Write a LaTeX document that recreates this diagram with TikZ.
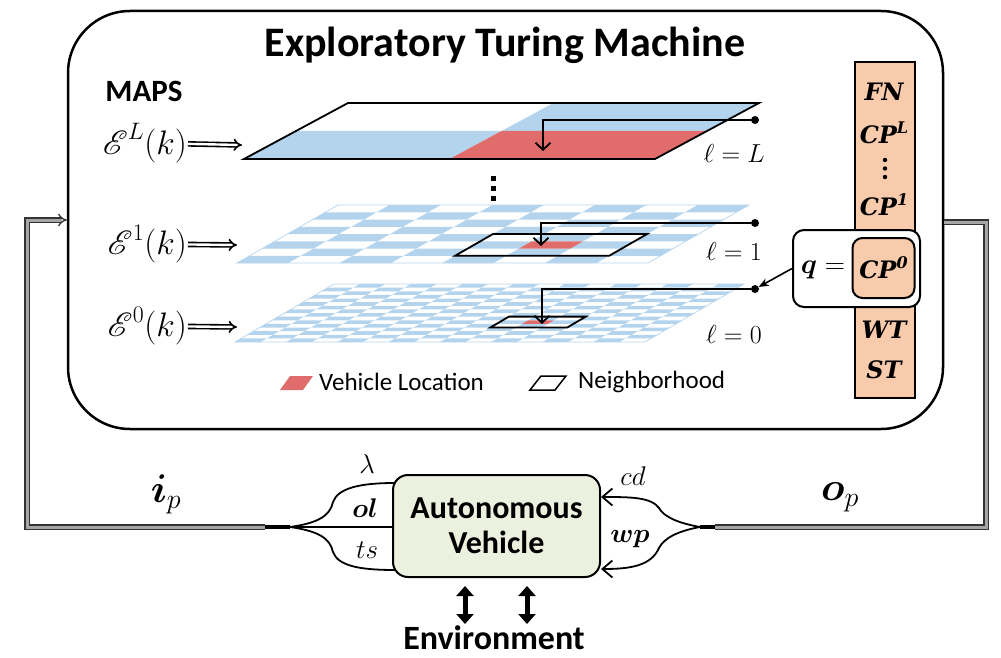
\RequirePackage{fix-cm}
\documentclass[tikz,border=0pt]{standalone}
\usepackage{amsmath,bm,mathrsfs,graphicx}
\usepackage{fontspec}
\newfontfamily\carl{Carlito}
\newfontfamily\serbi{DejaVu Serif}
\usetikzlibrary{arrows.meta,calc}
\definecolor{lblue}{RGB}{180,212,238}
\definecolor{vred}{RGB}{224,108,108}
\definecolor{peach}{RGB}{248,203,173}
\definecolor{lgreen}{RGB}{235,241,222}
\newcommand\fsz[1]{\fontsize{#1}{#1}\selectfont}
\newcommand\colf{\serbi\bfseries\itshape\fsz{24}}
\newcommand\sups[1]{\raisebox{0.4em}{\fontsize{16}{16}\selectfont #1}}
\newcommand\bigE{\text{\scalebox{1.35}{$\mathscr{E}$}}}
\newcommand\cellp[5]{({(#1)/#5},{(#2)/#5}) -- ({(#3)/#5},{(#2)/#5}) -- ({(#3)/#5},{(#4)/#5}) -- ({(#1)/#5},{(#4)/#5}) -- cycle}
\begin{document}
\begin{tikzpicture}[x=1pt,y=-1pt,
  lay/.style n args={5}{shift={(#1pt,-#2pt)},x={(#3pt,0pt)},y={(#4pt,#5pt)}},
  nbh/.style={line width=1.8pt,line join=miter},
  eimp/.style={double,double distance=2.4pt,line width=1.6pt,-{Implies}},
  loopline/.style={draw=black!80,double=black!35,line width=1.3pt,double distance=3pt,line join=miter},
  layarrow/.style={line width=1.8pt,-{Straight Barb[length=7pt,width=15pt]}},
  fan/.style={line width=1.8pt},
  fanarrow/.style={line width=1.8pt,-{Straight Barb[length=10pt,width=17pt]}},
  dot/.style={circle,fill,inner sep=0pt,minimum size=8pt},
  envarrow/.style={line width=5pt,{Triangle[length=10pt,width=17pt]}-{Triangle[length=10pt,width=17pt]}},
  colitem/.style={font=\colf,inner sep=0pt},
  ell/.style={font=\fsz{26},anchor=base east,inner sep=0pt},
  elab/.style={font=\fsz{34},anchor=east,inner sep=1pt},
  small/.style={font=\fsz{27},anchor=base,inner sep=0pt}]
\useasboundingbox (0,0) rectangle (1001,658);

% main box
\node[draw,line width=2.5pt,rounded corners=62pt,minimum width=875pt,minimum height=418pt,inner sep=0pt] (etm) at (505.5,220) {};
\node[font=\carl\bfseries\fsz{42}] (title) at (505,45) {Exploratory Turing Machine};
\node[font=\carl\bfseries\fsz{31}] (maps) at (144,91) {MAPS};

% layer L
\begin{scope}[lay={244}{159}{411}{104}{56}]
  \fill[lblue] \cellp{0}{0}{1}{1}{2};
  \fill[lblue] \cellp{1}{1}{2}{2}{2};
  \fill[vred] \cellp{1}{0}{2}{1}{2};
  \draw[line width=1.8pt,line join=miter] \cellp{0}{0}{2}{2}{2};
\end{scope}
% layer 1
\begin{scope}[lay={237}{263}{411}{101}{58}]
  \foreach \i in {0,...,7}{\foreach \j in {0,...,7}{
    \pgfmathtruncatemacro\pty{mod(\i+\j,2)}
    \ifnum\pty=0 \fill[lblue] \cellp{\i}{\j}{\i+1}{\j+1}{8};\fi}}
  \draw[lblue,line width=0.7pt] \cellp{0}{0}{1}{1}{1};
  \fill[vred] \cellp{5}{2}{6}{3}{8};
  \draw[nbh] \cellp{4}{1}{7}{4}{8};
\end{scope}
% layer 0
\begin{scope}[lay={235}{342}{410}{99}{58}]
  \foreach \i in {0,...,15}{\foreach \j in {0,...,15}{
    \pgfmathtruncatemacro\pty{mod(\i+\j,2)}
    \ifnum\pty=0 \fill[lblue] \cellp{\i}{\j}{\i+1}{\j+1}{16};\fi}}
  \draw[lblue,line width=0.7pt] \cellp{0}{0}{1}{1}{1};
  \fill[vred] \cellp{10}{5}{11}{6}{16};
  \draw[nbh] \cellp{9}{4}{12}{7}{16};
\end{scope}

% vertical dots between layers
\foreach \yy in {176,186,196}{\fill (491,\yy) rectangle (496,\yy+5);}

% layer labels
\node[elab] (EL) at (188,143) {$\bigE^L(k)$};
\node[elab] (E1) at (188,244) {$\bigE^1(k)$};
\node[elab] (E0) at (188,326) {$\bigE^0(k)$};
\coordinate (aL) at (242,145);
\coordinate (a1) at (237,245);
\coordinate (a0) at (237,327);
\draw[eimp] (EL) -- (aL);
\draw[eimp] (E1) -- (a1);
\draw[eimp] (E0) -- (a0);

\node[ell] (lL) at (765,162) {$\ell = L$};
\node[ell] (l1) at (762,260) {$\ell = 1$};
\node[ell] (l0) at (762,343) {$\ell = 0$};

% pointer arrows
\node[dot] (dL) at (755,120) {};
\node[dot] (d1) at (755,223) {};
\node[dot] (d0) at (755,289) {};
\coordinate (tL) at (543,151);
\coordinate (t1) at (541,246);
\coordinate (t0) at (542,324);
\draw[layarrow] (dL) -| (tL);
\draw[layarrow] (d1) -| (t1);
\draw[layarrow] (d0) -| (t0);

% tape column
\node[draw,fill=peach,line width=2pt,minimum width=60pt,minimum height=336pt,inner sep=0pt] (col) at (885,230) {};
\node[colitem] (fn) at (884,92) {FN};
\node[colitem] (cpL) at (884,133) {CP\sups{L}};
\foreach \yy in {160,168.5,177}{\fill (885,\yy) circle (2.2pt);}
\node[colitem] (cp1) at (884,205) {CP\sups{1}};
\node[colitem] (wt) at (884,330) {WT};
\node[colitem] (st) at (884,370) {ST};
\node[draw,fill=white,rounded corners=11pt,line width=2pt,minimum width=127pt,minimum height=77pt,inner sep=0pt] (qbox) at (856.5,268.5) {};
\node[draw,fill=peach,rounded corners=10pt,line width=2pt,minimum width=62pt,minimum height=60pt,inner sep=0pt,font=\colf] (cp0) at (883.5,268) {CP\sups{0}};
\node[font=\fsz{28},inner sep=0pt] (qeq) at (823,270) {$\bm{q}=$};
\draw[line width=1.6pt,-{Stealth[length=10pt,width=8pt]}] (qbox.west) -- (d0);

% legend
\fill[vred] (280,390) -- (303,390) -- (313,376) -- (290,376) -- cycle;
\node[font=\carl\fsz{25},anchor=west,inner sep=0pt] (legv) at (319,382) {Vehicle Location};
\draw[line width=1.5pt,line join=miter] (530,390) -- (555,390) -- (566,376) -- (541,376) -- cycle;
\node[font=\carl\fsz{25},anchor=west,inner sep=0pt] (legn) at (578,382) {Neighborhood};

% autonomous vehicle
\node[draw,fill=lgreen,rounded corners=15pt,line width=2pt,minimum width=207pt,minimum height=102pt,inner sep=0pt,align=center,font=\carl\bfseries\fontsize{32}{35}\selectfont] (av) at (496.5,526) {Autonomous\\Vehicle};
\node[font=\carl\bfseries\fsz{34},anchor=base,inner sep=0pt] (env) at (494,649) {Environment};
\coordinate (e1a) at (465,586);
\coordinate (e1b) at (465,624);
\coordinate (e2a) at (527,586);
\coordinate (e2b) at (527,624);
\draw[envarrow] (e1a) -- (e1b);
\draw[envarrow] (e2a) -- (e2b);

% left fan
\coordinate (jL) at (290,527);
\coordinate (jL0) at (265,527);
\coordinate (avt) at (395,483);
\coordinate (avm) at (393,527);
\coordinate (avb) at (395,570);
\draw[fan] (jL) .. controls (318,523) and (330,516) .. (333,502) .. controls (338,488) and (360,483) .. (avt);
\draw[fan] (jL) -- (avm);
\draw[fan] (jL) .. controls (318,531) and (330,538) .. (333,552) .. controls (338,566) and (360,570) .. (avb);
\draw[line width=3.5pt] (jL0) -- (jL);
\node[small] (lam) at (367,473) {$\lambda$};
\node[small] (ol) at (365,517) {$\bm{ol}$};
\node[small] (ts) at (367,558) {$ts$};

% right fan
\coordinate (jR) at (700,527);
\coordinate (jR0) at (715,527);
\coordinate (avcd) at (601,497);
\coordinate (avwp) at (601,569);
\draw[fanarrow] (jR) .. controls (678,523) and (664,517) .. (659,508) .. controls (651,497) and (630,497) .. (avcd);
\draw[fanarrow] (jR) .. controls (678,531) and (664,538) .. (659,548) .. controls (651,566) and (630,569) .. (avwp);
\draw[line width=3.5pt] (jR) -- (jR0);
\node[small] (cd) at (633,485) {$cd$};
\node[small] (wp) at (630,542) {$\bm{wp}$};

% loops
\coordinate (cL1) at (27,527);
\coordinate (cL2) at (27,220);
\coordinate (cR1) at (986,527);
\coordinate (cR2) at (986,222);
\draw[loopline,-{Implies}] (jL0) -- (cL1) -- (cL2) -- (etm.west);
\draw[loopline] (jR0) -- (cR1) -- (cR2) -- (etm.east |- cR2);
\node[font=\fsz{40},anchor=base,inner sep=0pt] (ip) at (166,502) {$\bm{i}_p$};
\node[font=\fsz{40},anchor=base,inner sep=0pt] (op) at (840,500) {$\bm{o}_p$};
\end{tikzpicture}
\end{document}
